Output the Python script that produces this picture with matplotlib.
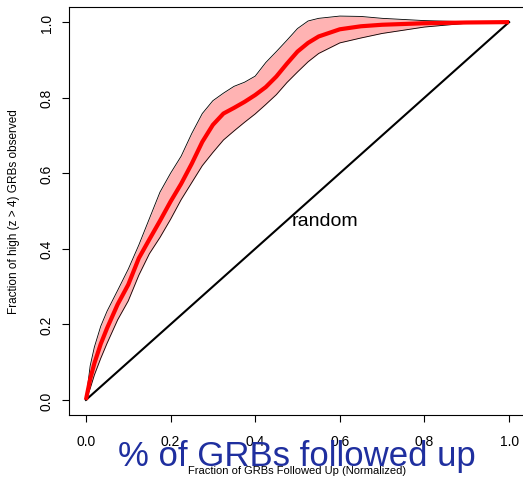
import numpy as np
import matplotlib
matplotlib.use("Agg")
import matplotlib.pyplot as plt

plt.rcParams['font.family'] = ['Liberation Sans', 'DejaVu Sans']

# fraction of GRBs followed up (normalized) and the fraction of high-z GRBs caught
frac_followed = [0.0, 0.01, 0.02, 0.035, 0.05, 0.075, 0.1, 0.125, 0.15, 0.175,
                 0.2, 0.225, 0.25, 0.275, 0.3, 0.325, 0.35, 0.375, 0.4, 0.425,
                 0.45, 0.475, 0.5, 0.525, 0.55, 0.6, 0.65, 0.7, 0.8, 0.9, 1.0]
frac_mean = [0.0, 0.055, 0.097, 0.148, 0.190, 0.253, 0.305, 0.375, 0.425, 0.474,
             0.525, 0.572, 0.625, 0.683, 0.728, 0.758, 0.773, 0.789, 0.807, 0.828,
             0.856, 0.890, 0.922, 0.945, 0.962, 0.981, 0.989, 0.993, 0.997, 0.999, 1.0]
frac_upper = [0.0, 0.090, 0.140, 0.195, 0.235, 0.290, 0.346, 0.410, 0.480, 0.550,
              0.600, 0.645, 0.705, 0.758, 0.792, 0.812, 0.830, 0.841, 0.857, 0.893,
              0.922, 0.952, 0.983, 1.003, 1.010, 1.016, 1.015, 1.010, 1.004, 1.001, 1.0]
frac_lower = [0.0, 0.030, 0.066, 0.110, 0.150, 0.212, 0.262, 0.330, 0.387, 0.430,
              0.478, 0.530, 0.575, 0.620, 0.655, 0.688, 0.712, 0.735, 0.757, 0.782,
              0.808, 0.840, 0.868, 0.895, 0.917, 0.945, 0.958, 0.970, 0.987, 0.997, 1.0]

ticks = [0.0, 0.2, 0.4, 0.6, 0.8, 1.0]

fig = plt.figure(figsize=(5.23, 4.81), dpi=100)
ax = fig.add_axes([69 / 523, 65 / 481, 457 / 523, 408 / 481])

# spread of the simulations
ax.fill_between(frac_followed, frac_lower, frac_upper, color='#ffb3b3', linewidth=0)
ax.plot(frac_followed, frac_upper, color='black', linewidth=0.6)
ax.plot(frac_followed, frac_lower, color='black', linewidth=0.6)

# random selection
ax.plot([0, 1], [0, 1], color='black', linewidth=1.5)
ax.text(0.486, 0.474, 'random', fontsize=14, ha='left', va='center')

# mean curve
ax.plot(frac_followed, frac_mean, color='red', linewidth=3, solid_capstyle='butt')

ax.set_xlim(-0.04, 1.04)
ax.set_ylim(-0.04, 1.04)
ax.set_xticks(ticks)
ax.set_yticks(ticks)
ax.set_xticklabels([f'{t:.1f}' for t in ticks])
ax.set_yticklabels([f'{t:.1f}' for t in ticks], rotation=90, va='center')
ax.tick_params(direction='out', length=5, width=0.8, labelsize=10)
ax.tick_params(axis='x', pad=9)
ax.tick_params(axis='y', pad=6)
for s in ax.spines.values():
    s.set_linewidth(0.8)

ax.set_xlabel('Fraction of GRBs Followed Up (Normalized)', fontsize=8, labelpad=12)
ax.set_ylabel('Fraction of high (z > 4) GRBs observed', fontsize=8.5, labelpad=14)

fig.text(297 / 523, 1 - 466 / 481, '% of GRBs followed up', fontsize=25,
         color='#1f2f9f', ha='center', va='baseline')

fig.savefig('out.png', dpi=100)
